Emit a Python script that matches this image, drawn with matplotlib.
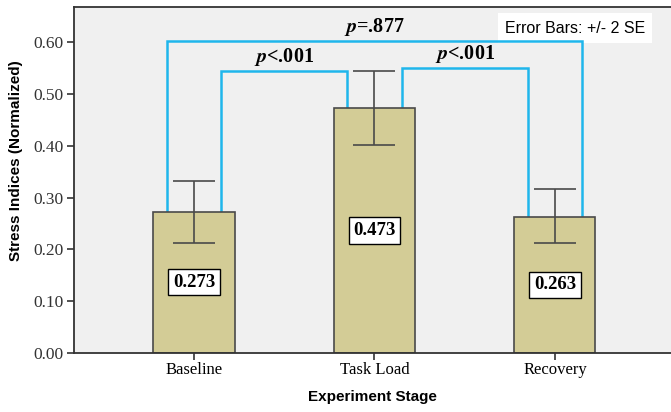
import numpy as np
import matplotlib.pyplot as plt

# données
stages = ["Baseline", "Task Load", "Recovery"]
means = [0.273, 0.473, 0.263]
err_low = [0.213, 0.401, 0.212]
err_high = [0.333, 0.545, 0.316]
value_labels = ["0.273", "0.473", "0.263"]
yticks = [0.0, 0.1, 0.2, 0.3, 0.4, 0.5, 0.6]

# comparaisons (barre a, barre b, hauteur du crochet, texte)
comparisons = [
    (0, 1, 0.545, "<.001"),
    (1, 2, 0.551, "<.001"),
    (0, 2, 0.602, "=.877"),
]

serif = "Liberation Serif"
sans = "Liberation Sans"
cyan = "#1fb6ec"
plt.rcParams["mathtext.fontset"] = "stix"

fig = plt.figure(figsize=(6.71, 4.12), dpi=100)
ax = fig.add_axes([0.1097, 0.1439, 0.8903, 0.8384])
ax.set_facecolor("#f0f0f0")

x = np.arange(len(stages))
means = np.array(means)
yerr = np.array([means - np.array(err_low), np.array(err_high) - means])

ax.bar(x, means, width=0.449, color="#d3cc96", edgecolor="#4a4a4a", linewidth=1.2, zorder=2)
ax.errorbar(x, means, yerr=yerr, fmt="none", ecolor="#4a4a4a", elinewidth=1.2,
            capsize=15, capthick=1.2, zorder=3)

for xi, m, lab in zip(x, means, value_labels):
    ax.text(xi, m / 2, lab, ha="center", va="center", fontsize=13.5, fontweight="bold",
            family=serif, zorder=4,
            bbox=dict(boxstyle="square,pad=0.25", facecolor="white", edgecolor="black", linewidth=1))

# crochets de significativité
off = 0.15
for a, b, h, txt in comparisons:
    if b - a == 2:
        xa, xb = x[a] - off, x[b] + off
    else:
        xa, xb = x[a] + off, x[b] - off
    ax.plot([xa, xa, xb, xb], [means[a], h, h, means[b]], color=cyan, lw=1.8, zorder=1,
            solid_joinstyle="miter")
    ax.text((xa + xb) / 2, h + 0.006, r"$\mathbfit{p}$" + txt, ha="center", va="bottom",
            fontsize=14.5, fontweight="bold", family=serif)

# encadré sous les crochets
ax.text(0.839, 0.94, "Error Bars: +/- 2 SE", transform=ax.transAxes, ha="center", va="center",
        fontsize=11.5, family=sans, zorder=0.5,
        bbox=dict(boxstyle="square,pad=0.45", facecolor="white", edgecolor="none"))

ax.set_xlim(-0.667, 2.643)
ax.set_ylim(0, 0.668)
ax.set_xticks(x)
ax.set_xticklabels(stages, family=serif, fontsize=12)
ax.set_yticks(yticks)
ax.set_yticklabels(["%.2f" % v for v in yticks], family=serif, fontsize=12.5, color="#333333")
ax.tick_params(axis="both", direction="out", length=5, width=1.2, color="#333333", pad=2)

for s in ["top", "left", "bottom"]:
    ax.spines[s].set_color("#333333")
    ax.spines[s].set_linewidth(1.3)
ax.spines["right"].set_visible(False)

ax.set_xlabel("Experiment Stage", family=sans, fontweight="bold", fontsize=11, labelpad=8)
fig.text(0.024, 0.61, "Stress Indices (Normalized)", rotation=90, ha="center", va="center",
         family=sans, fontweight="bold", fontsize=11)

fig.savefig("out.png", dpi=100)
